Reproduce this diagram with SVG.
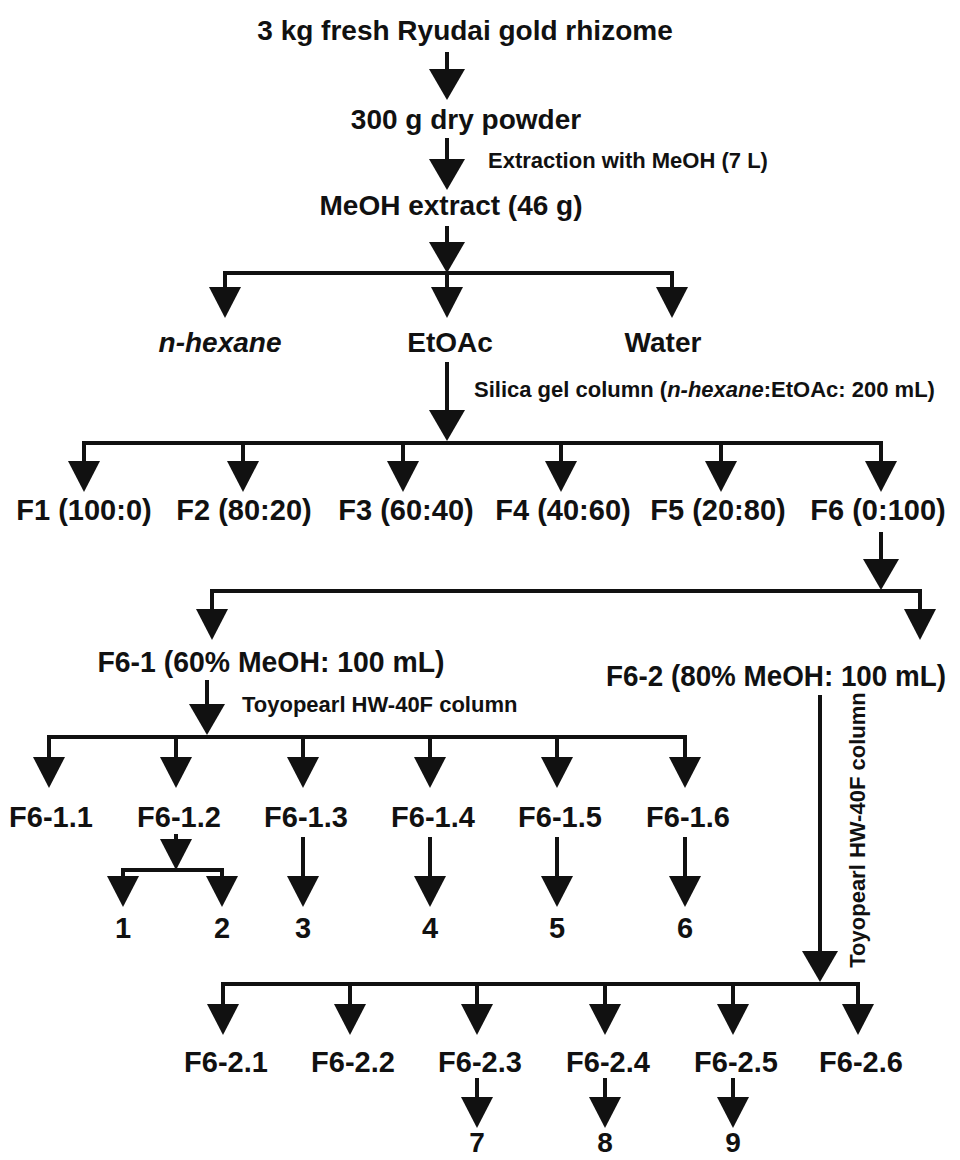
<svg xmlns="http://www.w3.org/2000/svg" width="960" height="1160" viewBox="0 0 960 1160">
<style>
text { font-family: "Liberation Sans", Arial, Helvetica, sans-serif; font-weight: bold; fill: #111; }
.xl { font-size: 28px; }
.lg { font-size: 29px; }
.sm { font-size: 22px; }
.c { text-anchor: middle; }
.it { font-style: italic; }
.ln { fill: none; stroke: #111; stroke-width: 4; stroke-linecap: square; }
.ab { fill: none; stroke: #111; stroke-width: 4; marker-end: url(#hb); }
.an { fill: none; stroke: #111; stroke-width: 4; marker-end: url(#hn); }
</style>
<defs>
<marker id="hb" markerUnits="userSpaceOnUse" markerWidth="32" markerHeight="40" viewBox="0 -20 32 40" refX="0" refY="0" orient="auto" overflow="visible">
<path d="M-1,-18 L30,0 L-1,18 Z" fill="#111"/>
</marker>
<marker id="hn" markerUnits="userSpaceOnUse" markerWidth="32" markerHeight="36" viewBox="0 -18 32 36" refX="0" refY="0" orient="auto" overflow="visible">
<path d="M-1,-16 L30,0 L-1,16 Z" fill="#111"/>
</marker>
</defs>
<rect width="960" height="1160" fill="#fff"/>

<g id="connectors">
<path class="ab" d="M447,52 V70"/>
<path class="ab" d="M447,138 V160"/>
<path class="ab" d="M447,226 V243"/>
<path class="ln" d="M225,273 H672"/>
<path class="an" d="M225,273 V288"/>
<path class="an" d="M447,273 V288"/>
<path class="an" d="M672,273 V288"/>
<path class="ab" d="M447,362 V411"/>
<path class="ln" d="M84,443 H881"/>
<path class="an" d="M84,443 V462"/>
<path class="an" d="M243,443 V462"/>
<path class="an" d="M403,443 V462"/>
<path class="an" d="M561,443 V462"/>
<path class="an" d="M721,443 V462"/>
<path class="an" d="M881,443 V462"/>
<path class="ab" d="M881,532 V560"/>
<path class="ln" d="M212,591 H920"/>
<path class="an" d="M212,591 V610"/>
<path class="an" d="M920,591 V610"/>
<path class="ab" d="M207,680 V705"/>
<path class="ln" d="M49,737 H685"/>
<path class="an" d="M49,737 V758"/>
<path class="an" d="M176,737 V758"/>
<path class="an" d="M303,737 V758"/>
<path class="an" d="M430,737 V758"/>
<path class="an" d="M557,737 V758"/>
<path class="an" d="M685,737 V758"/>
<path class="an" d="M176,834 V840"/>
<path class="ln" d="M123,870 H222"/>
<path class="an" d="M123,870 V877"/>
<path class="an" d="M222,870 V877"/>
<path class="an" d="M303,837 V877"/>
<path class="an" d="M430,837 V877"/>
<path class="an" d="M557,837 V877"/>
<path class="an" d="M685,837 V877"/>
<path class="ab" d="M820,695 V952"/>
<path class="ln" d="M223,984 H858"/>
<path class="an" d="M223,984 V1005"/>
<path class="an" d="M350,984 V1005"/>
<path class="an" d="M477,984 V1005"/>
<path class="an" d="M605,984 V1005"/>
<path class="an" d="M733,984 V1005"/>
<path class="an" d="M858,984 V1005"/>
<path class="an" d="M477,1078 V1098"/>
<path class="an" d="M605,1078 V1098"/>
<path class="an" d="M733,1078 V1098"/>
</g>

<g id="edge-labels">
<text id="lbl-extraction" class="sm" x="488" y="168">Extraction with MeOH (7 L)</text>
<text id="lbl-silica" class="sm" x="474" y="397">Silica gel column (<tspan class="it">n-hexane</tspan>:EtOAc: 200 mL)</text>
<text id="lbl-toyo1" class="sm" x="242" y="712">Toyopearl HW-40F column</text>
<text id="lbl-toyo2" class="sm c" transform="translate(865,830) rotate(-90)">Toyopearl HW-40F column</text>
</g>

<g id="n-rhizome"><text class="xl c" x="465" y="40">3 kg fresh Ryudai gold rhizome</text></g>
<g id="n-powder"><text class="xl c" x="466" y="129">300 g dry powder</text></g>
<g id="n-extract"><text class="xl c" x="451" y="215">MeOH extract (46 g)</text></g>
<g id="n-hexane"><text class="xl c it" x="220" y="352">n-hexane</text></g>
<g id="n-etoac"><text class="xl c" x="450" y="352">EtOAc</text></g>
<g id="n-water"><text class="xl c" x="663" y="352">Water</text></g>

<g id="n-f1"><text class="lg c" x="84" y="520">F1 (100:0)</text></g>
<g id="n-f2"><text class="lg c" x="244" y="520">F2 (80:20)</text></g>
<g id="n-f3"><text class="lg c" x="406" y="520">F3 (60:40)</text></g>
<g id="n-f4"><text class="lg c" x="563" y="520">F4 (40:60)</text></g>
<g id="n-f5"><text class="lg c" x="718" y="520">F5 (20:80)</text></g>
<g id="n-f6"><text class="lg c" x="878" y="520">F6 (0:100)</text></g>

<g id="n-f6-1"><text class="lg c" x="271" y="672" textLength="347" lengthAdjust="spacingAndGlyphs">F6-1 (60% MeOH: 100 mL)</text></g>
<g id="n-f6-2"><text class="lg c" x="776" y="686" textLength="340" lengthAdjust="spacingAndGlyphs">F6-2 (80% MeOH: 100 mL)</text></g>

<g id="n-f6-1-1"><text class="lg c" x="51" y="827">F6-1.1</text></g>
<g id="n-f6-1-2"><text class="lg c" x="179" y="827">F6-1.2</text></g>
<g id="n-f6-1-3"><text class="lg c" x="306" y="827">F6-1.3</text></g>
<g id="n-f6-1-4"><text class="lg c" x="433" y="827">F6-1.4</text></g>
<g id="n-f6-1-5"><text class="lg c" x="560" y="827">F6-1.5</text></g>
<g id="n-f6-1-6"><text class="lg c" x="688" y="827">F6-1.6</text></g>

<g id="n-c1"><text class="lg c" x="123" y="938">1</text></g>
<g id="n-c2"><text class="lg c" x="222" y="938">2</text></g>
<g id="n-c3"><text class="lg c" x="303" y="938">3</text></g>
<g id="n-c4"><text class="lg c" x="430" y="938">4</text></g>
<g id="n-c5"><text class="lg c" x="557" y="938">5</text></g>
<g id="n-c6"><text class="lg c" x="685" y="938">6</text></g>

<g id="n-f6-2-1"><text class="lg c" x="226" y="1072">F6-2.1</text></g>
<g id="n-f6-2-2"><text class="lg c" x="353" y="1072">F6-2.2</text></g>
<g id="n-f6-2-3"><text class="lg c" x="480" y="1072">F6-2.3</text></g>
<g id="n-f6-2-4"><text class="lg c" x="608" y="1072">F6-2.4</text></g>
<g id="n-f6-2-5"><text class="lg c" x="736" y="1072">F6-2.5</text></g>
<g id="n-f6-2-6"><text class="lg c" x="861" y="1072">F6-2.6</text></g>

<g id="n-c7"><text class="xl c" x="477" y="1152">7</text></g>
<g id="n-c8"><text class="xl c" x="605" y="1152">8</text></g>
<g id="n-c9"><text class="xl c" x="733" y="1152">9</text></g>
</svg>
